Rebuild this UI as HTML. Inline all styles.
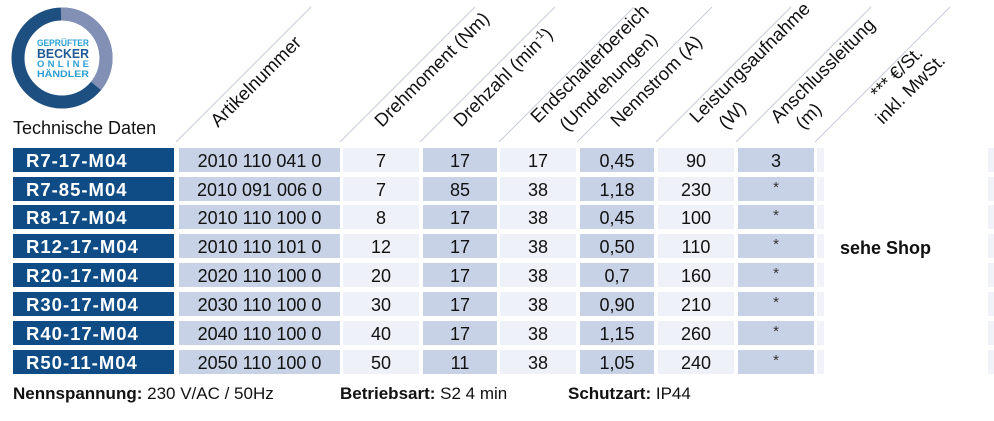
<!DOCTYPE html>
<html><head><meta charset="utf-8"><style>
html,body{margin:0;padding:0;background:#fff;width:994px;height:421px;overflow:hidden}
svg{display:block}
text{font-family:"Liberation Sans",Arial,sans-serif}
</style></head><body>
<svg width="994" height="421" viewBox="0 0 994 421" xmlns="http://www.w3.org/2000/svg">
<circle cx="62" cy="58" r="44" fill="none" stroke="#1d4f80" stroke-width="13"/>
<path d="M61 14 A44 44 0 0 1 96 86" fill="none" stroke="#8190b4" stroke-width="13"/>
<text x="11" y="58" font-size="17" fill="#1d4f80">❄</text>
<g font-weight="bold" text-anchor="middle">
<text x="63" y="46" font-size="9.5" fill="#2b9fd3" textLength="52" lengthAdjust="spacingAndGlyphs">GEPRÜFTER</text>
<text x="63" y="58" font-size="13" fill="#1d5a96" textLength="52" lengthAdjust="spacingAndGlyphs">BECKER</text>
<text x="63" y="67" font-size="9.5" fill="#2b9fd3" textLength="52" lengthAdjust="spacing">ONLINE</text>
<text x="63" y="77" font-size="9.5" fill="#2b9fd3" textLength="52" lengthAdjust="spacingAndGlyphs">HÄNDLER</text>
</g>
<text x="13" y="134" font-size="18" fill="#111">Technische Daten</text>
<g stroke="#c9cdd9" stroke-width="1">
<line x1="176" y1="142" x2="311" y2="7"/>
<line x1="340" y1="142" x2="475" y2="7"/>
<line x1="420" y1="142" x2="555" y2="7"/>
<line x1="499" y1="142" x2="634" y2="7"/>
<line x1="577" y1="142" x2="712" y2="7"/>
<line x1="656" y1="142" x2="791" y2="7"/>
<line x1="736" y1="142" x2="871" y2="7"/>
<line x1="815" y1="142" x2="950" y2="7"/>
</g>
<g font-size="18.5" fill="#111">
<text transform="translate(218,128) rotate(-45)">Artikelnummer</text>
<text transform="translate(382,128) rotate(-45)">Drehmoment (Nm)</text>
<text transform="translate(461,128) rotate(-45)">Drehzahl (min<tspan font-size="11" dy="-7">-1</tspan><tspan dy="7">)</tspan></text>
<text transform="translate(538,124) rotate(-45)">Endschalterbereich</text>
<text transform="translate(567,132) rotate(-45)">(Umdrehungen)</text>
<text transform="translate(618,128) rotate(-45)">Nennstrom (A)</text>
<text transform="translate(697,124) rotate(-45)">Leistungsaufnahme</text>
<text transform="translate(726,130) rotate(-45)">(W)</text>
<text transform="translate(778,124) rotate(-45)">Anschlussleitung</text>
<text transform="translate(803,130) rotate(-45)">(m)</text>
<text transform="translate(878,100) rotate(-45)">*** €/St.</text>
<text transform="translate(883,125) rotate(-45)">inkl. MwSt.</text>
</g>
<g id="rows"></g>
</svg>
<script>
var rows=[["R7-17-M04","2010 110 041 0","7","17","17","0,45","90","3"],
["R7-85-M04","2010 091 006 0","7","85","38","1,18","230","*"],
["R8-17-M04","2010 110 100 0","8","17","38","0,45","100","*"],
["R12-17-M04","2010 110 101 0","12","17","38","0,50","110","*"],
["R20-17-M04","2020 110 100 0","20","17","38","0,7","160","*"],
["R30-17-M04","2030 110 100 0","30","17","38","0,90","210","*"],
["R40-17-M04","2040 110 100 0","40","17","38","1,15","260","*"],
["R50-11-M04","2050 110 100 0","50","11","38","1,05","240","*"]];
var cols=[[13,174,"#0f4c86"],[179,340,"#c8d2e6"],[343,419,"#eef1f7"],[423,497,"#c8d2e6"],[500,576,"#eef1f7"],[580,654,"#c8d2e6"],[658,734,"#eef1f7"],[738,814,"#c8d2e6"]];
var s="",tops=[148,177,205,234,263,292,321,350];
rows.forEach(function(r,i){var y=tops[i];
cols.forEach(function(c,j){s+='<rect x="'+c[0]+'" y="'+y+'" width="'+(c[1]-c[0])+'" height="24" fill="'+c[2]+'"/>';
if(j==0)s+='<text x="26" y="'+(y+19)+'" font-size="18.5" font-weight="bold" letter-spacing="1" fill="#fff">'+r[0]+'</text>';
else if(r[j]=="*")s+='<text x="'+((c[0]+c[1])/2)+'" y="'+(y+15)+'" font-size="15" text-anchor="middle" fill="#333">*</text>';
else s+='<text x="'+((c[0]+c[1])/2)+'" y="'+(y+19)+'" font-size="18" text-anchor="middle" fill="#111">'+r[j]+'</text>';});
s+='<rect x="817" y="'+y+'" width="7" height="24" fill="#f1f3f8"/><rect x="988" y="'+y+'" width="6" height="24" fill="#f1f3f8"/>';});
s+='<text x="840" y="254" font-size="18" font-weight="bold" fill="#111">sehe Shop</text>';
s+='<text x="13" y="399" font-size="17" fill="#111"><tspan font-weight="bold">Nennspannung:</tspan> 230 V/AC / 50Hz</text>';
s+='<text x="340" y="399" font-size="17" fill="#111"><tspan font-weight="bold">Betriebsart:</tspan> S2 4 min</text>';
s+='<text x="568" y="399" font-size="17" fill="#111"><tspan font-weight="bold">Schutzart:</tspan> IP44</text>';
document.getElementById("rows").innerHTML=s;
</script>
</body></html>
